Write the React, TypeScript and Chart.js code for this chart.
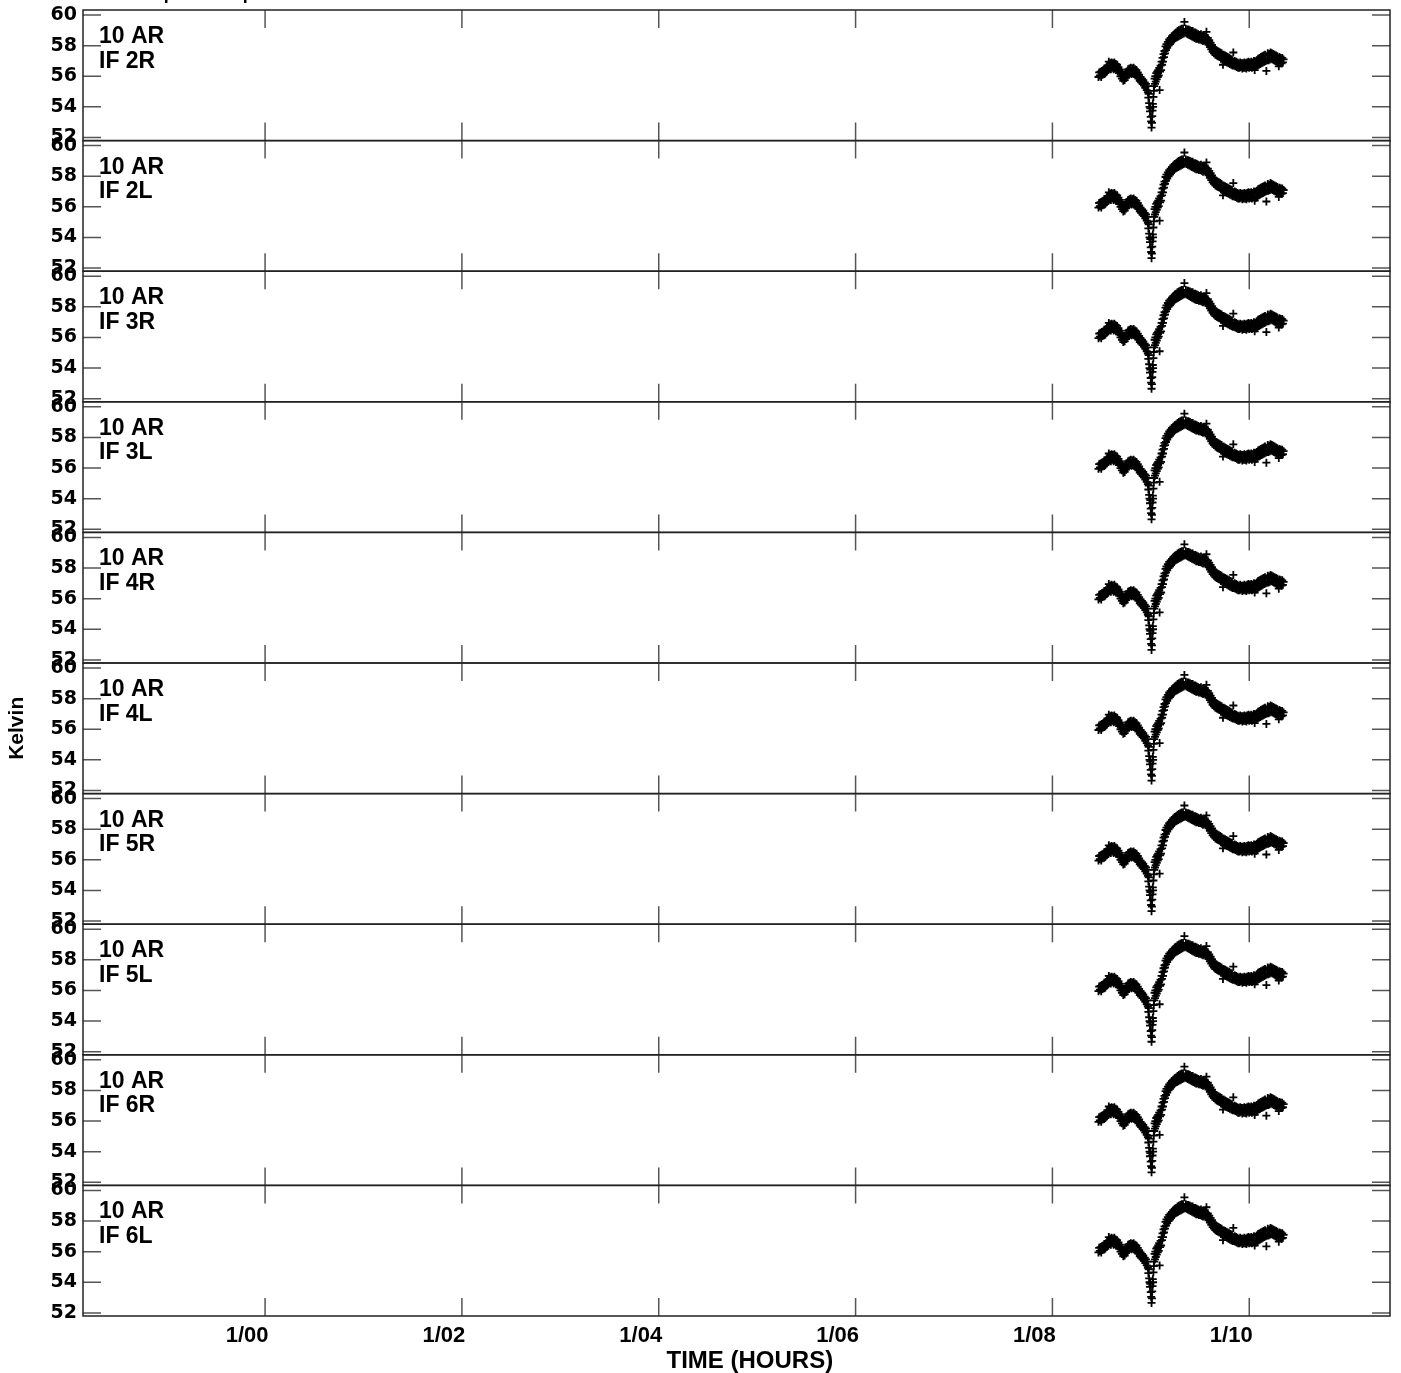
import React, { useEffect, useRef } from "react";
import { Chart, registerables } from "chart.js";

Chart.register(...registerables);

// ---------------- data ----------------
const X_TICKS = [0, 2, 4, 6, 8, 10];
const X_TICK_LABELS = ["1/00", "1/02", "1/04", "1/06", "1/08", "1/10"];
const Y_TICKS = [52, 54, 56, 58, 60];
const X_MIN = -1.85;
const X_MAX = 11.43;
const Y_MIN = 51.797;
const Y_MAX = 60.327;
const ANTENNA = "10 AR";
const PANEL_LABELS = ["IF 2R", "IF 2L", "IF 3R", "IF 3L", "IF 4R", "IF 4L", "IF 5R", "IF 5L", "IF 6R", "IF 6L"];
const X_TITLE = "    TIME (HOURS)";
const Y_TITLE = "Kelvin";
const TOP_TITLE = "Temp and amp vs time";

// [time (hours), Kelvin]
const SAMPLES: [number, number][] = [
  [8.468, 55.95], [8.475, 56.25], [8.482, 56.05], [8.489, 56.3], [8.496, 55.95], [8.503, 56.35], [8.51, 56.1], [8.517, 56.4],
  [8.524, 56.15], [8.531, 56.5], [8.538, 56.2], [8.545, 56.55], [8.552, 56.3], [8.559, 56.7], [8.566, 56.4], [8.573, 56.95],
  [8.58, 56.5], [8.587, 56.85], [8.594, 56.45], [8.601, 56.9], [8.608, 56.55], [8.615, 56.85], [8.622, 56.45], [8.629, 56.9],
  [8.636, 56.5], [8.643, 56.8], [8.65, 56.4], [8.657, 56.75], [8.664, 56.35], [8.671, 56.6], [8.678, 56.2], [8.685, 56.45],
  [8.692, 56.0], [8.699, 56.3], [8.706, 55.85], [8.713, 56.15], [8.72, 55.7], [8.727, 56.05], [8.734, 55.75], [8.741, 56.15],
  [8.748, 55.9], [8.755, 56.3], [8.762, 56.05], [8.769, 56.45], [8.776, 56.15], [8.783, 56.5], [8.79, 56.2], [8.797, 56.55],
  [8.804, 56.15], [8.811, 56.5], [8.818, 56.2], [8.825, 56.55], [8.832, 56.15], [8.839, 56.45], [8.846, 56.1], [8.853, 56.4],
  [8.86, 55.95], [8.867, 56.25], [8.874, 55.85], [8.881, 56.1], [8.888, 55.7], [8.895, 55.95], [8.902, 55.6], [8.909, 55.85],
  [8.916, 55.5], [8.923, 55.75], [8.93, 55.4], [8.937, 55.6], [8.944, 55.25], [8.951, 55.5], [8.958, 55.1], [8.965, 55.35],
  [8.97, 54.95], [8.975, 54.6], [8.979, 54.85], [8.983, 54.25], [8.987, 54.0], [8.991, 53.7], [8.995, 53.9], [8.999, 53.35],
  [9.003, 53.05], [9.007, 52.65], [9.011, 52.95], [9.014, 53.4], [9.017, 53.75], [9.02, 54.2], [9.023, 54.0], [9.026, 54.65],
  [9.03, 55.05], [9.034, 55.35], [9.038, 55.85], [9.042, 55.5], [9.046, 56.0], [9.05, 55.65], [9.055, 56.2], [9.06, 55.8],
  [9.065, 56.3], [9.07, 55.95], [9.075, 56.4], [9.08, 56.05], [9.085, 56.55], [9.089, 55.1], [9.094, 56.3], [9.099, 56.7],
  [9.104, 56.4], [9.109, 56.95], [9.114, 56.75], [9.119, 57.2], [9.124, 56.95], [9.129, 57.45], [9.134, 57.25], [9.139, 57.65],
  [9.144, 57.5], [9.149, 57.95], [9.154, 57.7], [9.159, 58.1], [9.166, 57.85], [9.173, 58.25], [9.18, 58.0], [9.187, 58.4],
  [9.194, 58.1], [9.201, 58.5], [9.208, 58.25], [9.215, 58.6], [9.222, 58.35], [9.229, 58.7], [9.236, 58.4], [9.243, 58.8],
  [9.25, 58.5], [9.257, 58.85], [9.264, 58.55], [9.271, 58.95], [9.278, 58.6], [9.285, 59.0], [9.292, 58.65], [9.299, 59.05],
  [9.306, 58.7], [9.313, 59.1], [9.32, 58.75], [9.327, 59.1], [9.334, 58.8], [9.341, 59.55], [9.348, 58.85], [9.355, 59.1],
  [9.362, 58.8], [9.369, 59.05], [9.376, 58.75], [9.383, 59.05], [9.39, 58.7], [9.397, 59.0], [9.404, 58.65], [9.411, 58.95],
  [9.418, 58.6], [9.425, 58.95], [9.432, 58.55], [9.439, 58.85], [9.446, 58.5], [9.453, 58.85], [9.46, 58.45], [9.467, 58.8],
  [9.474, 58.45], [9.481, 58.75], [9.488, 58.4], [9.495, 58.7], [9.502, 58.4], [9.509, 58.75], [9.516, 58.35], [9.523, 58.65],
  [9.53, 58.3], [9.537, 58.65], [9.544, 58.35], [9.551, 58.6], [9.558, 58.3], [9.565, 58.9], [9.572, 58.2], [9.579, 58.5],
  [9.586, 58.05], [9.593, 58.35], [9.6, 57.9], [9.607, 58.2], [9.614, 57.75], [9.621, 58.05], [9.628, 57.6], [9.635, 57.9],
  [9.642, 57.5], [9.649, 57.8], [9.656, 57.4], [9.663, 57.7], [9.67, 57.35], [9.677, 57.65], [9.684, 57.3], [9.691, 57.6],
  [9.698, 57.25], [9.705, 57.55], [9.712, 57.15], [9.719, 57.5], [9.726, 57.1], [9.733, 56.75], [9.74, 57.4], [9.747, 57.05],
  [9.754, 57.35], [9.761, 56.95], [9.768, 57.3], [9.775, 56.9], [9.782, 57.25], [9.789, 56.85], [9.796, 57.2], [9.803, 56.8],
  [9.81, 57.15], [9.817, 56.75], [9.824, 57.1], [9.831, 56.7], [9.838, 57.55], [9.845, 56.7], [9.852, 57.0], [9.859, 56.65],
  [9.866, 56.95], [9.873, 56.6], [9.88, 56.9], [9.887, 56.55], [9.894, 56.85], [9.901, 56.55], [9.908, 56.9], [9.915, 56.6],
  [9.922, 56.85], [9.929, 56.5], [9.936, 56.85], [9.943, 56.55], [9.95, 56.9], [9.957, 56.55], [9.964, 56.85], [9.971, 56.5],
  [9.978, 56.9], [9.985, 56.6], [9.992, 56.95], [9.999, 56.55], [10.006, 56.9], [10.013, 56.6], [10.02, 56.95], [10.027, 56.55],
  [10.034, 56.9], [10.041, 56.65], [10.048, 57.0], [10.055, 56.4], [10.062, 56.95], [10.069, 56.6], [10.076, 57.05], [10.083, 56.7],
  [10.09, 57.15], [10.097, 56.75], [10.104, 57.2], [10.111, 56.8], [10.118, 57.25], [10.125, 56.85], [10.132, 57.3], [10.139, 56.9],
  [10.146, 57.35], [10.153, 56.95], [10.16, 57.4], [10.167, 57.0], [10.174, 56.35], [10.181, 57.05], [10.188, 57.5], [10.195, 57.05],
  [10.202, 57.45], [10.209, 57.1], [10.216, 57.55], [10.223, 57.15], [10.23, 57.5], [10.237, 57.1], [10.244, 57.45], [10.251, 57.05],
  [10.258, 57.4], [10.265, 57.0], [10.272, 57.35], [10.279, 56.95], [10.286, 57.3], [10.293, 56.9], [10.3, 56.65], [10.307, 57.25],
  [10.314, 56.9], [10.321, 57.2], [10.328, 56.85], [10.335, 57.2], [10.342, 56.9], [10.349, 57.1],
];

// ---------------- layout ----------------
const W = 1401;
const H = 1373;
const PLOT_RIGHT = 1390;
const PLOT_LEFT = 83;
const PLOT_TOP = 10;
const PLOT_BOTTOM = 1316;
const N = PANEL_LABELS.length;
const PANEL_H = (PLOT_BOTTOM - PLOT_TOP) / N;
const MARGIN = 26;
const TICK_LEN = 18;
const FONT = '"Liberation Sans", Arial, Helvetica, sans-serif';

const PANELS = PANEL_LABELS.map((label, i) => {
  const areaTop = PLOT_TOP + i * PANEL_H;
  const areaBottom = areaTop + PANEL_H;
  const last = i === N - 1;
  const canvasTop = Math.floor(areaTop) - MARGIN;
  const canvasBottom = last ? H : Math.ceil(areaBottom) + MARGIN;
  return {
    label,
    last,
    canvasTop,
    canvasH: canvasBottom - canvasTop,
    padTop: areaTop - canvasTop,
    padBottom: last ? 0 : canvasBottom - areaBottom,
  };
});

const decorPlugin = {
  id: "panelDecor",
  afterDraw(chart: any, _args: any, opts: any) {
    const { ctx, chartArea: a, scales } = chart;
    const xs = scales.x;
    const ys = scales.y;
    ctx.save();
    // inward tick marks
    ctx.strokeStyle = "#555";
    ctx.lineWidth = 1.5;
    ctx.beginPath();
    for (const v of X_TICKS) {
      const px = xs.getPixelForValue(v);
      ctx.moveTo(px, a.top);
      ctx.lineTo(px, a.top + TICK_LEN);
      ctx.moveTo(px, a.bottom - TICK_LEN);
      ctx.lineTo(px, a.bottom);
    }
    for (const v of Y_TICKS) {
      const py = ys.getPixelForValue(v);
      ctx.moveTo(a.left, py);
      ctx.lineTo(a.left + TICK_LEN, py);
      ctx.moveTo(a.right - TICK_LEN, py);
      ctx.lineTo(a.right, py);
    }
    ctx.stroke();
    // frame
    ctx.strokeStyle = "#222";
    ctx.lineWidth = 1.5;
    ctx.strokeRect(a.left, a.top, a.right - a.left, a.bottom - a.top);
    // panel labels
    ctx.fillStyle = "#000";
    ctx.font = `bold 23px ${FONT}`;
    ctx.textAlign = "left";
    ctx.textBaseline = "alphabetic";
    ctx.fillText(ANTENNA, a.left + 16, a.top + 33);
    ctx.fillText(opts.label, a.left + 16, a.top + 57.5);
    if (opts.showTop) {
      ctx.font = `bold 18px ${FONT}`;
      ctx.fillText(TOP_TITLE, 128, a.top - 11);
    }
    ctx.restore();
  },
};

function makeConfig(i: number): any {
  const p = PANELS[i];
  return {
    type: "scatter",
    data: {
      datasets: [
        {
          data: SAMPLES.map(([t, k]) => ({ x: t, y: k })),
          pointStyle: "cross",
          pointRadius: 4,
          pointHoverRadius: 4,
          borderWidth: 1.8,
          borderColor: "#000",
          backgroundColor: "#000",
          showLine: false,
        },
      ],
    },
    options: {
      animation: false,
      responsive: false,
      devicePixelRatio: 1,
      events: [],
      layout: {
        padding: { top: p.padTop, bottom: p.padBottom, left: 0, right: W - PLOT_RIGHT },
      },
      plugins: {
        legend: { display: false },
        tooltip: { enabled: false },
        panelDecor: { label: p.label, showTop: i === 0 },
      },
      scales: {
        x: {
          type: "linear",
          min: X_MIN,
          max: X_MAX,
          display: p.last,
          afterBuildTicks: (s: any) => {
            s.ticks = X_TICKS.map((v) => ({ value: v }));
          },
          afterFit: (s: any) => {
            if (p.last) s.height = H - PLOT_BOTTOM;
          },
          grid: { display: false, drawTicks: false },
          border: { display: false },
          ticks: {
            autoSkip: false,
            maxRotation: 0,
            minRotation: 0,
            labelOffset: -18,
            padding: 9,
            color: "#000",
            font: { family: FONT, size: 22, weight: "bold", lineHeight: 1 },
            callback: (v: number) => {
              const k = X_TICKS.indexOf(v);
              return k >= 0 ? X_TICK_LABELS[k] : "";
            },
          },
          title: {
            display: true,
            text: X_TITLE,
            color: "#000",
            font: { family: FONT, size: 24, weight: "bold", lineHeight: 1 },
            padding: { top: 0, bottom: 0 },
          },
        },
        y: {
          type: "linear",
          min: Y_MIN,
          max: Y_MAX,
          afterBuildTicks: (s: any) => {
            s.ticks = Y_TICKS.map((v) => ({ value: v }));
          },
          afterFit: (s: any) => {
            s.width = PLOT_LEFT;
          },
          grid: { display: false, drawTicks: false },
          border: { display: false },
          ticks: {
            autoSkip: false,
            padding: 6,
            color: "#000",
            font: { family: '"DejaVu Sans", sans-serif', size: 19, weight: "bold", lineHeight: 1 },
          },
          title: {
            display: i === 5,
            text: Y_TITLE,
            color: "#000",
            font: { family: FONT, size: 21, weight: "bold", lineHeight: 1 },
            padding: { top: 7, bottom: 0 },
          },
        },
      },
    },
    plugins: [decorPlugin],
  };
}

export default function App() {
  const refs = useRef<(HTMLCanvasElement | null)[]>([]);

  useEffect(() => {
    const charts = PANELS.map((_, i) => new Chart(refs.current[i] as HTMLCanvasElement, makeConfig(i)));
    return () => {
      charts.forEach((c) => c.destroy());
    };
  }, []);

  return (
    <div
      style={{
        position: "absolute",
        left: 0,
        top: 0,
        width: W,
        height: H,
        background: "#fff",
        overflow: "hidden",
      }}
    >
      {PANELS.map((p, i) => (
        <canvas
          key={i}
          ref={(el) => {
            refs.current[i] = el;
          }}
          width={W}
          height={p.canvasH}
          style={{ position: "absolute", left: 0, top: p.canvasTop, width: W, height: p.canvasH }}
        />
      ))}
    </div>
  );
}
